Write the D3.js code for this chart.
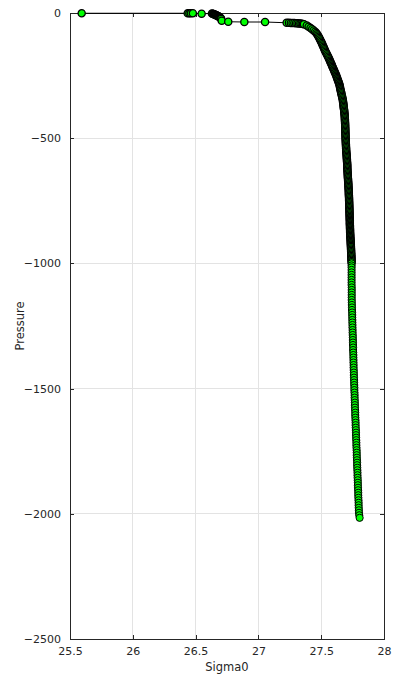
<!DOCTYPE html>
<html><head><meta charset="utf-8">
<script src="https://cdn.jsdelivr.net/npm/d3@7"></script>
<style>html,body{margin:0;padding:0;background:#fff;}svg{display:block;}</style>
</head><body>
<div id="chart"></div>
<script>
// Pressure values (as plotted, negative downward)
const pressure = [
 -1,-1,-1,-1,-1,-3,
 -2,-3,-4,-5,-6,-7,-8,-9,-10,-11,-12,-13,-14,-15,-17,-19,-21,-24,
 -31,-35,-36,-36,
 -39,-39,-40,-40,-40,-41,-41,-42,-42,-43,-44,-45,
 -50,-55,-60,-65,-70,-75,-80,-85,-90,-95,-100,-105,-110,-115,-120,-125,-130,-135,-140,-145,
 -150,-155,-160,-165,-170,-175,-180,-185,-190,-195,-200,-205,-210,-215,-220,-225,-230,-235,-240,-245,
 -250,-255,-260,-265,-270,-275,-280,-285,-290,-295,-300,-305,-310,-315,-320,-325,-330,-335,-340,-345,
 -350,-355,-360,-365,-370,-375,-380,-385,-390,-395,-400,-405,-410,-415,-420,-425,-430,-435,-440,-445,
 -450,-455,-460,-465,-470,-475,-480,-485,-490,-495,-500,
 -505,-510,-515,-520,-525,-530,-535,-540,-545,-550,-555,-560,-565,-570,-575,-580,-585,-590,-595,-600,
 -605,-610,-615,-620,-625,-630,-635,-640,-645,-650,-655,-660,-665,-670,-675,-680,-685,-690,-695,-700,
 -705,-710,-715,-720,-725,-730,-735,-740,-745,-750,-755,-760,-765,-770,-775,-780,-785,-790,-795,-800,
 -805,-810,-815,-820,-825,-830,-835,-840,-845,-850,-855,-860,-865,-870,-875,-880,-885,-890,-895,-900,
 -905,-910,-915,-920,-925,-930,-935,-940,-945,-950,-955,-960,-965,-970,-975,-980,-985,-990,-995,-1000,
 -1008,-1016,-1026,-1036,-1046,-1056,-1066,-1076,-1086,-1096,-1106,-1116,-1126,-1136,-1146,-1156,-1166,-1176,-1186,-1196,
 -1206,-1216,-1226,-1236,-1246,-1256,-1266,-1276,-1286,-1296,-1306,-1316,-1326,-1336,-1346,-1356,-1366,-1376,-1386,-1396,
 -1406,-1416,-1426,-1436,-1446,-1456,-1466,-1476,-1486,-1496,-1506,-1516,-1526,-1536,-1546,-1556,-1566,-1576,-1586,-1596,
 -1606,-1616,-1626,-1636,-1646,-1656,-1666,-1676,-1686,-1696,-1706,-1716,-1726,-1736,-1746,-1756,-1766,-1776,-1786,-1796,
 -1806,-1816,-1826,-1836,-1846,-1856,-1866,-1876,-1886,-1896,-1906,-1916,-1926,-1936,-1946,-1956,-1966,-1976,-1986,-1996,
 -2006,-2016
];
// Potential density anomaly sigma0 (kg/m^3)
const sigma0 = [
 25.593,26.437,26.450,26.462,26.478,26.548,
 26.630,26.636,26.641,26.646,26.651,26.656,26.660,26.664,26.668,26.672,26.676,26.680,26.684,26.688,26.692,26.697,26.701,26.704,
 26.708,26.760,26.888,27.053,
 27.225,27.243,27.258,27.272,27.286,27.299,27.311,27.323,27.334,27.344,27.354,27.363,
 27.385,27.400,27.415,27.428,27.440,27.452,27.461,27.468,27.474,27.480,27.485,27.490,27.495,27.500,27.505,27.509,27.513,27.518,27.522,27.526,
 27.530,27.535,27.540,27.545,27.550,27.555,27.560,27.564,27.569,27.573,27.577,27.582,27.586,27.590,27.594,27.599,27.603,27.607,27.611,27.616,
 27.620,27.623,27.627,27.630,27.634,27.638,27.641,27.645,27.647,27.649,27.651,27.653,27.655,27.658,27.660,27.662,27.665,27.667,27.669,27.672,
 27.673,27.674,27.676,27.677,27.678,27.679,27.680,27.682,27.683,27.684,27.685,27.686,27.687,27.688,27.688,27.689,27.689,27.690,27.690,27.691,
 27.691,27.691,27.692,27.692,27.692,27.693,27.693,27.693,27.694,27.694,27.694,
 27.695,27.695,27.696,27.696,27.697,27.697,27.698,27.698,27.699,27.699,27.700,27.701,27.702,27.703,27.703,27.704,27.705,27.705,27.706,27.707,
 27.707,27.708,27.708,27.708,27.709,27.709,27.710,27.711,27.711,27.712,27.712,27.713,27.714,27.714,27.715,27.716,27.716,27.717,27.717,27.718,
 27.719,27.719,27.720,27.720,27.720,27.721,27.721,27.722,27.722,27.722,27.723,27.723,27.723,27.724,27.724,27.724,27.725,27.725,27.725,27.726,
 27.726,27.726,27.727,27.727,27.727,27.728,27.728,27.728,27.728,27.729,27.729,27.729,27.730,27.730,27.730,27.731,27.731,27.732,27.732,27.733,
 27.734,27.734,27.735,27.735,27.736,27.736,27.737,27.737,27.738,27.738,27.739,27.739,27.740,27.740,27.741,27.741,27.741,27.742,27.742,27.742,
 27.742,27.742,27.742,27.742,27.742,27.742,27.742,27.742,27.742,27.743,27.743,27.743,27.743,27.743,27.743,27.744,27.744,27.745,27.745,27.746,
 27.747,27.747,27.748,27.748,27.749,27.749,27.750,27.750,27.751,27.752,27.752,27.753,27.753,27.754,27.754,27.755,27.756,27.756,27.757,27.757,
 27.758,27.758,27.759,27.760,27.760,27.761,27.762,27.762,27.763,27.764,27.764,27.765,27.766,27.766,27.767,27.768,27.768,27.769,27.770,27.771,
 27.771,27.772,27.773,27.774,27.774,27.775,27.776,27.777,27.777,27.778,27.779,27.780,27.780,27.781,27.782,27.783,27.783,27.784,27.785,27.786,
 27.786,27.787,27.788,27.789,27.789,27.790,27.791,27.792,27.792,27.793,27.794,27.795,27.795,27.796,27.797,27.798,27.798,27.799,27.800,27.801,
 27.803,27.806
];
const xTicks = [25.5, 26, 26.5, 27, 27.5, 28];
const yTicks = [0, -500, -1000, -1500, -2000, -2500];
const xLabel = "Sigma0";
const yLabel = "Pressure";

const W = 401, H = 677;
const m = {left: 70, right: 17, top: 13, bottom: 38};
const iw = W - m.left - m.right, ih = H - m.top - m.bottom;

const svg = d3.select("#chart").append("svg").attr("width", W).attr("height", H);
const g = svg.append("g").attr("transform", `translate(${m.left},${m.top})`);

const x = d3.scaleLinear().domain([25.5, 28]).range([0, iw]);
const y = d3.scaleLinear().domain([-2500, 0]).range([ih, 0]);

const axisColor = "#262626";
const font = "'DejaVu Sans', sans-serif";

// grid
g.append("g").selectAll("line").data(xTicks.slice(1, -1)).join("line")
  .attr("x1", d => x(d)).attr("x2", d => x(d)).attr("y1", 0).attr("y2", ih)
  .attr("stroke", "#e3e3e3").attr("stroke-width", 1).attr("shape-rendering", "crispEdges");
g.append("g").selectAll("line").data(yTicks.slice(1, -1)).join("line")
  .attr("y1", d => y(d)).attr("y2", d => y(d)).attr("x1", 0).attr("x2", iw)
  .attr("stroke", "#e3e3e3").attr("stroke-width", 1).attr("shape-rendering", "crispEdges");

// axes (ticks inward)
function styleAxis(sel) {
  sel.selectAll("path").attr("stroke", axisColor).attr("shape-rendering", "crispEdges");
  sel.selectAll("line").attr("stroke", axisColor).attr("shape-rendering", "crispEdges");
  sel.selectAll("text").attr("fill", axisColor).style("font-family", font).style("font-size", "11px");
}
const xb = g.append("g").attr("transform", `translate(0,${ih})`)
  .call(d3.axisBottom(x).tickValues(xTicks).tickSize(-4).tickSizeOuter(0).tickPadding(8).tickFormat(d3.format("")));
styleAxis(xb);
const xt = g.append("g")
  .call(d3.axisTop(x).tickValues(xTicks).tickSize(-4).tickSizeOuter(0).tickFormat(""));
styleAxis(xt);
const yl = g.append("g")
  .call(d3.axisLeft(y).tickValues(yTicks).tickSize(-4).tickSizeOuter(0).tickPadding(9).tickFormat(d3.format("")));
styleAxis(yl);
const yr = g.append("g").attr("transform", `translate(${iw},0)`)
  .call(d3.axisRight(y).tickValues(yTicks).tickSize(-4).tickSizeOuter(0).tickFormat(""));
styleAxis(yr);

// labels
svg.append("text").attr("x", m.left + iw / 2).attr("y", 671).attr("text-anchor", "middle")
  .attr("fill", axisColor).style("font-family", font).style("font-size", "11.5px").text(xLabel);
svg.append("text").attr("transform", `translate(24,${m.top + ih / 2}) rotate(-90)`).attr("text-anchor", "middle")
  .attr("fill", axisColor).style("font-family", font).style("font-size", "11.5px").text(yLabel);

// data
const pts = pressure.map((p, i) => ({p, s: sigma0[i]}));
g.append("path").datum(pts)
  .attr("d", d3.line().x(d => x(d.s)).y(d => y(d.p)))
  .attr("fill", "none").attr("stroke", "#000").attr("stroke-width", 1);
g.append("g").selectAll("circle").data(pts).join("circle")
  .attr("cx", d => x(d.s)).attr("cy", d => y(d.p)).attr("r", 3.6)
  .attr("fill", "#00ff00").attr("stroke", "#000").attr("stroke-width", d => d.p > -1000 ? 1.3 : 1);
</script>
</body></html>
